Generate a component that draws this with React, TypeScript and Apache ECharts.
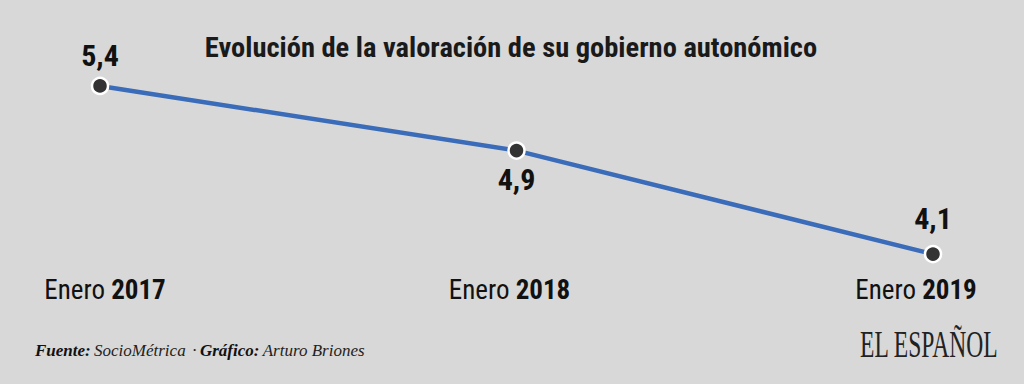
import React, { useEffect, useRef } from "react";
import * as echarts from "echarts";

const categories = ["2017", "2018", "2019"];
const values = [5.4, 4.9, 4.1];
const labelPositions = ["top", "bottom", "top"];
const labelDistances = [6, 5, 11];
const titleText = "Evolución de la valoración de su gobierno autonómico";

const COND = "'Roboto Condensed', 'Liberation Sans Narrow', Roboto, sans-serif";
const AX = 27;

export default function App() {
  const ref = useRef<HTMLDivElement>(null);
  useEffect(() => {
    if (!ref.current) return;
    const chart = echarts.init(ref.current, null, { renderer: "svg" });
    chart.setOption({
      animation: false,
      backgroundColor: "#d8d8d8",
      grid: { left: 100, right: 91, top: 73, bottom: 117, outerBoundsMode: "none" },
      xAxis: {
        type: "category",
        data: categories,
        boundaryGap: false,
        axisLine: { show: false },
        axisTick: { show: false },
        splitLine: { show: false },
        axisLabel: {
          margin: 9,
          formatter: (v: string, i: number) => `{a${i}|Enero }{b${i}|${v}}`,
          rich: {
            a0: { fontFamily: COND, fontSize: AX, color: "#111", padding: [0, 0, 0, 10] },
            b0: { fontFamily: COND, fontSize: AX, fontWeight: "bold", color: "#111" },
            a1: { fontFamily: COND, fontSize: AX, color: "#111" },
            b1: { fontFamily: COND, fontSize: AX, fontWeight: "bold", color: "#111", padding: [0, 14, 0, 0] },
            a2: { fontFamily: COND, fontSize: AX, color: "#111" },
            b2: { fontFamily: COND, fontSize: AX, fontWeight: "bold", color: "#111", padding: [0, 34, 0, 0] },
          },
        },
      },
      yAxis: { type: "value", min: 4, max: 5.5, show: false, splitLine: { show: false } },
      series: [
        {
          type: "line",
          data: values.map((v, i) => ({
            value: v,
            label: { position: labelPositions[i], distance: labelDistances[i] },
          })),
          lineStyle: { color: "#3a6cb9", width: 4.5 },
          symbol: "circle",
          symbolSize: 16,
          itemStyle: { color: "#333333", borderColor: "#ffffff", borderWidth: 2.5 },
          label: {
            show: true,
            formatter: (p: any) => String(p.value).replace(".", ","),
            fontFamily: COND,
            fontSize: 30,
            fontWeight: "bold",
            color: "#111",
          },
          emphasis: { disabled: true },
        },
      ],
      graphic: [
        {
          type: "text",
          x: 511,
          y: 47,
          style: {
            text: titleText,
            fontFamily: COND,
            fontSize: 28.5,
            fontWeight: "bold",
            fill: "#1a1a1a",
            textAlign: "center",
            textVerticalAlign: "middle",
          },
        },
        {
          type: "text",
          x: 35,
          y: 350,
          style: {
            text: "{b|Fuente:} {n|SocioMétrica}  {n|·} {b|Gráfico:} {n|Arturo Briones}",
            textVerticalAlign: "middle",
            rich: {
              b: { fontFamily: "'Liberation Serif', serif", fontStyle: "italic", fontWeight: "bold", fontSize: 17, fill: "#111" },
              n: { fontFamily: "'Liberation Serif', serif", fontStyle: "italic", fontSize: 17, fill: "#222" },
            },
          },
        },
        {
          type: "text",
          x: 860,
          y: 344,
          scaleX: 0.62,
          style: {
            text: "EL ESPAÑOL",
            fontFamily: "'Liberation Serif', serif",
            fontSize: 38,
            fill: "#222",
            textAlign: "left",
            textVerticalAlign: "middle",
          },
        },
      ],
    });
    return () => chart.dispose();
  }, []);
  return <div ref={ref} style={{ width: 1024, height: 384, position: "absolute", left: 0, top: 0 }} />;
}
